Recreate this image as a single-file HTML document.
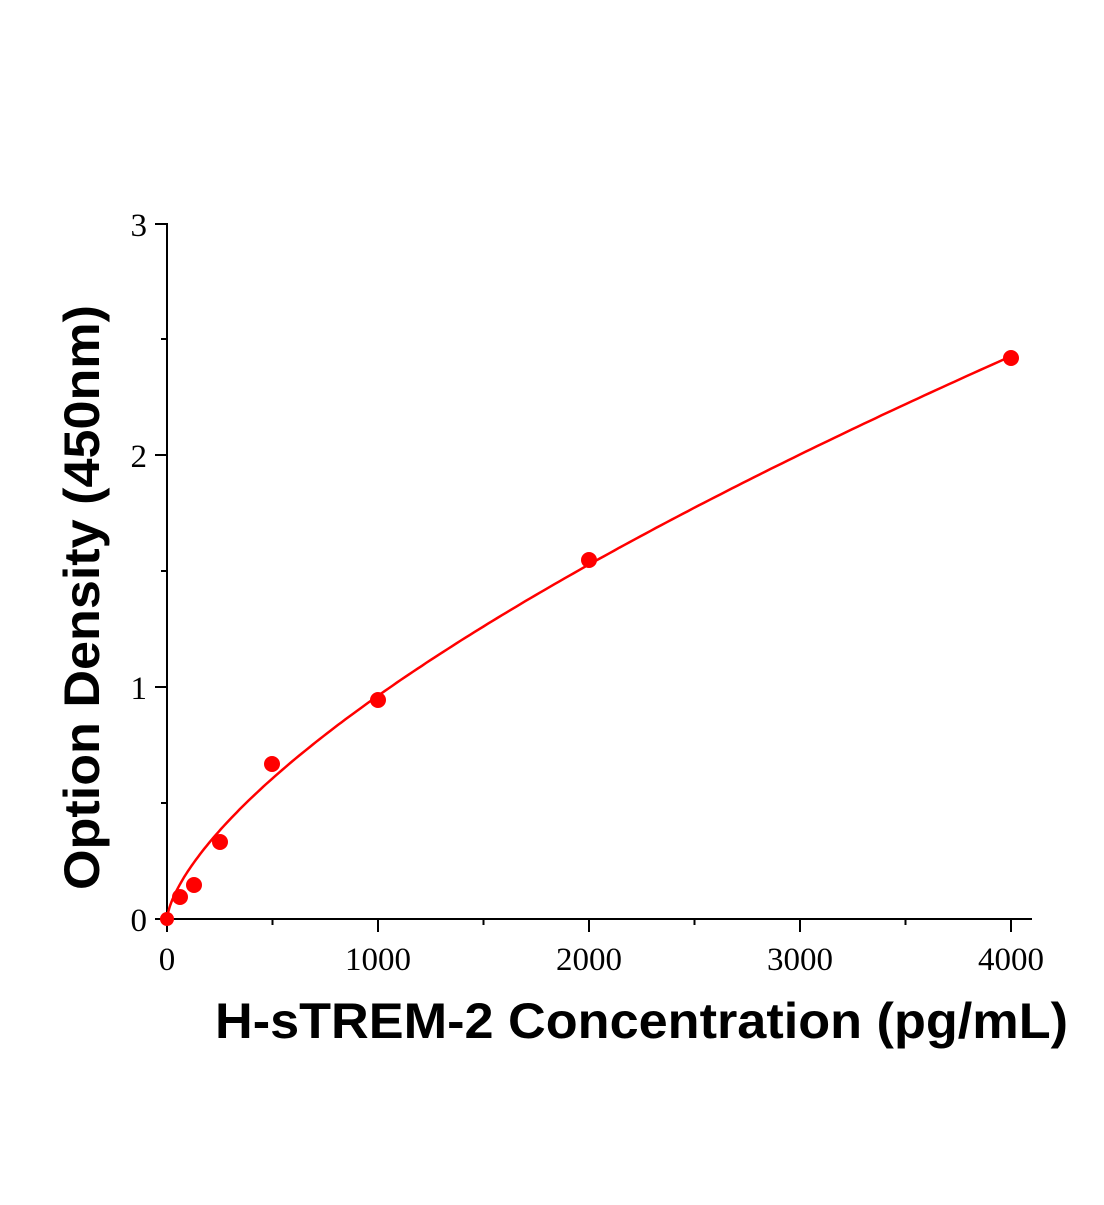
<!DOCTYPE html>
<html><head><style>body{margin:0;background:#fff}</style></head><body>
<svg width="1104" height="1200" xmlns="http://www.w3.org/2000/svg">
<g stroke="#000" stroke-width="2" fill="none">
<line x1="167" y1="223" x2="167" y2="920"/>
<line x1="155" y1="919" x2="1032" y2="919"/>
<line x1="155" y1="224" x2="167" y2="224"/>
<line x1="155" y1="455" x2="167" y2="455"/>
<line x1="155" y1="687" x2="167" y2="687"/>
<line x1="161" y1="339" x2="167" y2="339"/>
<line x1="161" y1="571" x2="167" y2="571"/>
<line x1="161" y1="803" x2="167" y2="803"/>
<line x1="167" y1="919" x2="167" y2="932"/>
<line x1="378" y1="919" x2="378" y2="932"/>
<line x1="589" y1="919" x2="589" y2="932"/>
<line x1="800" y1="919" x2="800" y2="932"/>
<line x1="1011" y1="919" x2="1011" y2="932"/>
<line x1="272.5" y1="919" x2="272.5" y2="925"/>
<line x1="483.5" y1="919" x2="483.5" y2="925"/>
<line x1="694.5" y1="919" x2="694.5" y2="925"/>
<line x1="905.5" y1="919" x2="905.5" y2="925"/>
</g>
<g font-family="Liberation Serif, serif" font-size="33" fill="#000">
<text x="147" y="931" text-anchor="end">0</text>
<text x="147" y="699" text-anchor="end">1</text>
<text x="147" y="467" text-anchor="end">2</text>
<text x="147" y="236" text-anchor="end">3</text>
<text x="167" y="970" text-anchor="middle">0</text>
<text x="378" y="970" text-anchor="middle">1000</text>
<text x="589" y="970" text-anchor="middle">2000</text>
<text x="800" y="970" text-anchor="middle">3000</text>
<text x="1011" y="970" text-anchor="middle">4000</text>
</g>
<g font-family="Liberation Sans, sans-serif" font-weight="bold" font-size="50" fill="#000">
<text x="215" y="1038" textLength="853" lengthAdjust="spacingAndGlyphs">H-sTREM-2 Concentration (pg/mL)</text>
<text transform="translate(99,890) rotate(-90)" textLength="585" lengthAdjust="spacingAndGlyphs">Option Density (450nm)</text>
</g>
<path id="curve" fill="none" stroke="#f00" stroke-width="2.5"/>
<g fill="#f00">
<circle cx="167" cy="919" r="7"/>
<circle cx="180" cy="897" r="8"/>
<circle cx="194" cy="885" r="8"/>
<circle cx="220" cy="842" r="8"/>
<circle cx="272" cy="764" r="8"/>
<circle cx="378" cy="700" r="8"/>
<circle cx="589" cy="560" r="8"/>
<circle cx="1011" cy="358" r="8"/>
</g>
</svg>
<script>
var d="";for(var i=0;i<=200;i++){var x=4000*Math.pow(i/200,1.5);var y=0.0096*Math.pow(x,0.667);d+=(i?"L":"M")+(167+x*0.211).toFixed(1)+","+(919-y*232).toFixed(1);}
document.getElementById("curve").setAttribute("d",d);
</script>
</body></html>
